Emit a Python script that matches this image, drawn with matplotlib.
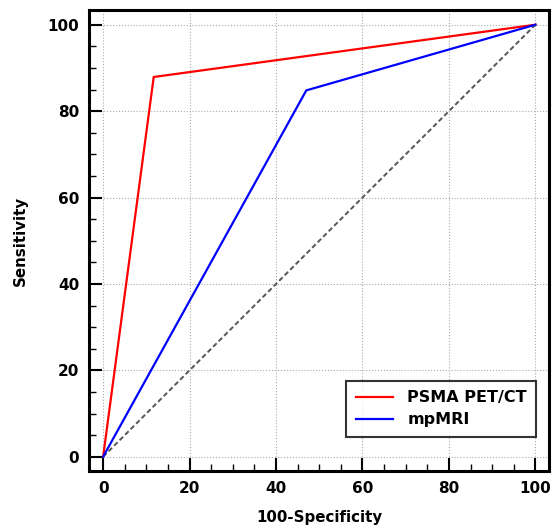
import numpy as np
import matplotlib
matplotlib.use('Agg')
import matplotlib.pyplot as plt
from matplotlib.ticker import MultipleLocator

plt.rcParams['font.family'] = ['DejaVu Sans']
plt.rcParams['font.weight'] = 'bold'

# ROC curves (100-Specificity, Sensitivity)
psma_x = [0, 11.7, 100]
psma_y = [0, 87.9, 100]
mri_x = [0, 47.0, 100]
mri_y = [0, 84.8, 100]
diag = [0, 100]

fig = plt.figure(figsize=(5.52, 5.28), dpi=100)
ax = fig.add_axes([0.161, 0.108, 0.834, 0.873])

ax.plot(diag, diag, color='#555555', linestyle=(0, (2.5, 1.5)), linewidth=1.4, zorder=2)
ax.plot(psma_x, psma_y, color='#ff0000', linewidth=1.6, label='PSMA PET/CT', zorder=3)
ax.plot(mri_x, mri_y, color='#0000ff', linewidth=1.6, label='mpMRI', zorder=3)

ax.set_xlim(-3.3, 103.2)
ax.set_ylim(-3.3, 103.4)
ax.xaxis.set_major_locator(MultipleLocator(20))
ax.yaxis.set_major_locator(MultipleLocator(20))
ax.xaxis.set_minor_locator(MultipleLocator(5))
ax.yaxis.set_minor_locator(MultipleLocator(5))
ax.tick_params(which='major', direction='in', length=9.5, width=1.5, labelsize=11, pad=7)
ax.tick_params(which='minor', direction='in', length=5, width=1.0)
for lab in ax.get_xticklabels() + ax.get_yticklabels():
    lab.set_fontweight('bold')

ax.grid(True, which='major', color='#aaaaaa', linestyle=':', linewidth=0.8)
for sp in ax.spines.values():
    sp.set_linewidth(2.2)

ax.set_xlabel('100-Specificity', fontsize=10.8, fontweight='bold', labelpad=10)
ax.set_ylabel('Sensitivity', fontsize=10.8, fontweight='bold', labelpad=14)

leg = ax.legend(loc='lower right', bbox_to_anchor=(0.972, 0.074), borderaxespad=0,
                fontsize=11.5, frameon=True, fancybox=False, edgecolor='black',
                handlelength=2.3, handletextpad=0.9, borderpad=0.6, labelspacing=0.45)
leg.get_frame().set_linewidth(1.5)
for t in leg.get_texts():
    t.set_fontweight('bold')

fig.savefig('out.png', dpi=100)
